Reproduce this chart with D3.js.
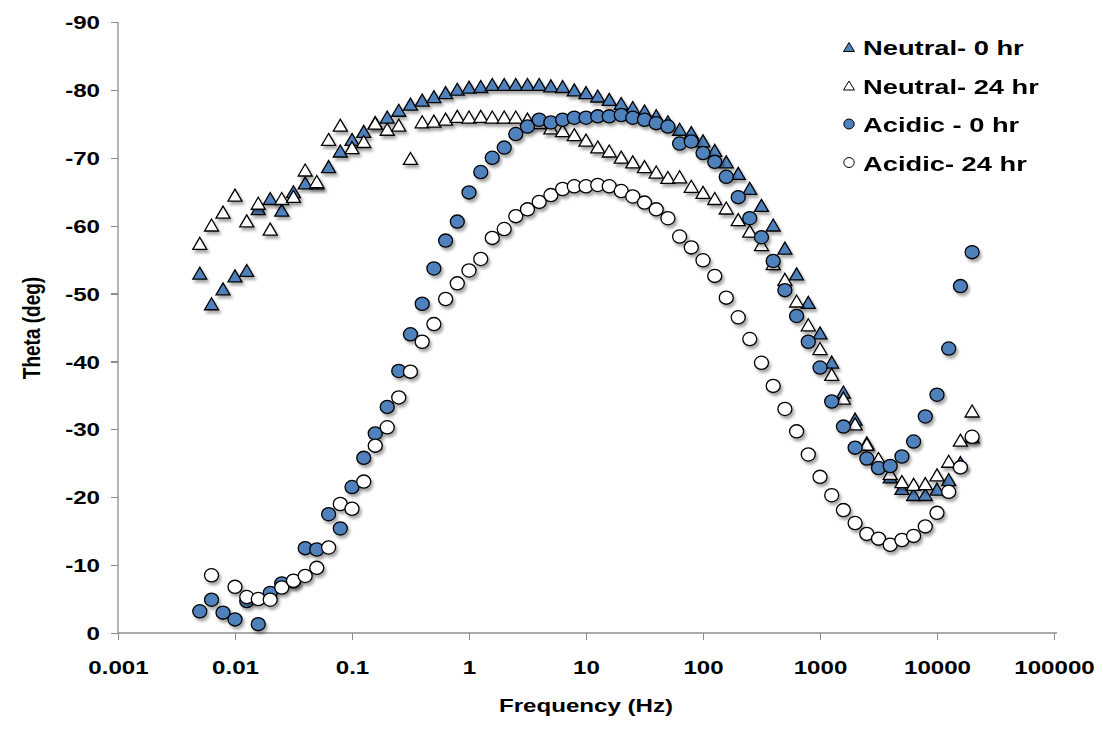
<!DOCTYPE html>
<html>
<head>
<meta charset="utf-8">
<title>Theta vs Frequency</title>
<style>
  body { margin: 0; background: #fff; }
  text { font-family: "Liberation Sans", Arial, sans-serif; font-weight: bold; fill: #000; }
  .axis path, .axis line { stroke: #8c8c8c; stroke-width: 1.3px; shape-rendering: crispEdges; }
</style>
<script src="https://d3js.org/d3.v7.min.js"></script>
</head>
<body>
<script>
// frequencies (Hz), 10 points per decade
var freqs = [0.005, 0.0063, 0.0079, 0.01, 0.0126, 0.0158, 0.02, 0.0251, 0.0316, 0.0398,
  0.05, 0.0631, 0.0794, 0.1, 0.126, 0.158, 0.2, 0.251, 0.316, 0.398,
  0.501, 0.631, 0.794, 1.0, 1.26, 1.58, 2.0, 2.51, 3.16, 3.98,
  5.01, 6.31, 7.94, 10, 12.6, 15.8, 20, 25.1, 31.6, 39.8,
  50.1, 63.1, 79.4, 100, 126, 158, 200, 251, 316, 398,
  501, 631, 794, 1000, 1259, 1585, 1995, 2512, 3162, 3981,
  5012, 6310, 7943, 10000, 12589, 15849, 19953];

var neutral0 = [-53.0, -48.5, -50.7, -52.6, -53.4, -62.5, -64.0, -62.3, -65.0, -66.3,
  -66.3, -68.7, -71.0, -72.7, -73.9, -75.2, -76.0, -77.0, -77.9, -78.5,
  -79.0, -79.6, -80.1, -80.4, -80.5, -80.8, -80.8, -80.8, -80.8, -80.8,
  -80.6, -80.5, -80.0, -79.6, -79.1, -78.6, -78.0, -77.4, -76.9, -76.2,
  -75.3, -74.2, -73.7, -72.5, -71.1, -69.4, -67.7, -65.5, -63.0, -60.1,
  -56.7, -52.9, -48.7, -44.2, -39.9, -35.5, -31.5, -28.0, -25.6, -23.0,
  -21.3, -20.4, -20.4, -21.2, -22.6, -25.1, -28.9];

var neutral24 = [-57.4, -60.1, -62.0, -64.5, -60.7, -63.3, -59.5, -64.0, -64.3, -68.2,
  -66.5, -72.7, -74.8, -71.5, -72.4, -75.1, -74.2, -74.8, -69.9, -75.3,
  -75.4, -75.7, -76.1, -76.0, -76.1, -76.0, -76.0, -76.0, -75.7, -75.2,
  -74.4, -74.0, -73.4, -72.6, -71.6, -71.0, -70.1, -69.4, -68.7, -67.9,
  -67.1, -67.2, -65.8, -64.9, -64.0, -62.6, -60.9, -59.2, -57.2, -54.4,
  -52.1, -48.9, -45.4, -41.9, -38.1, -34.6, -30.8, -27.8, -25.7, -23.5,
  -22.3, -21.9, -22.0, -23.3, -25.3, -28.4, -32.7];

var acidic0 = [-3.2, -4.9, -3.0, -2.0, -4.7, -1.3, -5.9, -7.3, -7.6, -12.5,
  -12.3, -17.5, -15.4, -21.5, -25.8, -29.4, -33.3, -38.6, -44.0, -48.5,
  -53.7, -57.8, -60.6, -64.9, -67.9, -70.0, -71.5, -73.5, -74.6, -75.6,
  -75.2, -75.6, -75.9, -75.9, -76.1, -76.1, -76.3, -75.9, -75.6, -75.1,
  -74.6, -72.1, -72.4, -70.7, -69.4, -67.2, -64.2, -61.1, -58.3, -54.8,
  -50.5, -46.7, -42.9, -39.1, -34.1, -30.4, -27.3, -25.7, -24.3, -24.6,
  -26.0, -28.2, -31.9, -35.1, -41.9, -51.1, -56.1];

var acidic24 = [null, -8.5, null, -6.8, -5.3, -5.0, -4.9, -6.7, -7.7, -8.4,
  -9.6, -12.6, -19.0, -18.3, -22.3, -27.6, -30.3, -34.7, -38.5, -42.9,
  -45.5, -49.2, -51.5, -53.4, -55.1, -58.2, -59.5, -61.4, -62.4, -63.5,
  -64.5, -65.4, -65.8, -65.8, -66.0, -65.8, -65.1, -64.3, -63.4, -62.4,
  -61.1, -58.4, -56.8, -54.9, -52.6, -49.4, -46.5, -43.3, -39.8, -36.4,
  -33.0, -29.7, -26.3, -23.0, -20.3, -18.1, -16.2, -14.6, -13.9, -13.0,
  -13.7, -14.3, -15.7, -17.7, -20.8, -24.4, -28.9];

var seriesNames = ["Neutral- 0 hr", "Neutral- 24 hr", "Acidic - 0 hr", "Acidic- 24 hr"];
var xTicks = [0.001, 0.01, 0.1, 1, 10, 100, 1000, 10000, 100000];
var xTickLabels = ["0.001", "0.01", "0.1", "1", "10", "100", "1000", "10000", "100000"];
var yTicks = [0, -10, -20, -30, -40, -50, -60, -70, -80, -90];

var series = [
  { name: seriesNames[0], values: neutral0, shape: "triangle", fill: "#4f81bd" },
  { name: seriesNames[1], values: neutral24, shape: "triangle", fill: "#ffffff" },
  { name: seriesNames[2], values: acidic0, shape: "circle", fill: "#4f81bd" },
  { name: seriesNames[3], values: acidic24, shape: "circle", fill: "#ffffff" }
];

var W = 1103, H = 738;
var sx = 1.27; // the picture is stretched sideways, so text is too

var svg = d3.select("body").append("svg")
  .attr("width", W)
  .attr("height", H);

var filter = svg.append("defs").append("filter")
  .attr("id", "shadow")
  .attr("x", "-20%").attr("y", "-20%")
  .attr("width", "140%").attr("height", "140%");
filter.append("feDropShadow")
  .attr("dx", 2).attr("dy", 3)
  .attr("stdDeviation", 1.6)
  .attr("flood-color", "#000")
  .attr("flood-opacity", 0.35);

var x = d3.scaleLog().domain([0.001, 100000]).range([118, 1054]);
var y = d3.scaleLinear().domain([0, -90]).range([633, 22]);

// axes
var xAxis = svg.append("g")
  .attr("class", "x axis")
  .attr("transform", "translate(0,633)")
  .call(d3.axisBottom(x).tickValues(xTicks)
    .tickFormat(function(d, i) { return xTickLabels[i]; })
    .tickSize(7).tickSizeOuter(0));
xAxis.selectAll("text")
  .attr("y", 0).attr("dy", 0)
  .attr("transform", "translate(0,41) scale(" + sx + ",1)")
  .style("font-size", "19px");

var yAxis = svg.append("g")
  .attr("class", "y axis")
  .attr("transform", "translate(118,0)")
  .call(d3.axisLeft(y).tickValues(yTicks)
    .tickFormat(function(d) { return String(d); })  // plain hyphen, as in the original
    .tickSize(7).tickSizeOuter(0));
yAxis.selectAll("text")
  .attr("x", 0).attr("dy", "0.35em")
  .attr("transform", "translate(-18,0) scale(" + sx + ",1)")
  .style("font-size", "19px");
svg.selectAll(".axis .domain").attr("d", null);
// axis lines
svg.append("line")
  .attr("x1", x(0.001)).attr("x2", x(100000) + 3)
  .attr("y1", y(0)).attr("y2", y(0))
  .style("stroke", "#8c8c8c").style("stroke-width", 1.3);
svg.append("line")
  .attr("x1", x(0.001)).attr("x2", x(0.001))
  .attr("y1", y(0)).attr("y2", y(-90))
  .style("stroke", "#8c8c8c").style("stroke-width", 1.3);

// axis titles
svg.append("text")
  .attr("text-anchor", "middle")
  .attr("transform", "translate(586,712) scale(" + sx + ",1)")
  .style("font-size", "19px")
  .text("Frequency (Hz)");
svg.append("text")
  .attr("text-anchor", "middle")
  .attr("transform", "translate(40,328) scale(" + sx + ",1) rotate(-90)")
  .style("font-size", "19px")
  .text("Theta (deg)");

function trianglePath(w, h) {
  return "M0," + (-h / 2) + "L" + (w / 2) + "," + (h / 2) + "L" + (-w / 2) + "," + (h / 2) + "Z";
}

// markers
series.forEach(function(s) {
  var pts = freqs.map(function(f, i) { return { f: f, v: s.values[i] }; })
    .filter(function(d) { return d.v !== null; });
  var g = svg.append("g").attr("filter", "url(#shadow)");
  if (s.shape === "triangle") {
    g.selectAll("path").data(pts).enter().append("path")
      .attr("d", trianglePath(14, 12))
      .attr("transform", function(d) { return "translate(" + x(d.f) + "," + y(d.v) + ")"; })
      .style("fill", s.fill).style("stroke", "#000").style("stroke-width", 1.3);
  } else {
    g.selectAll("ellipse").data(pts).enter().append("ellipse")
      .attr("cx", function(d) { return x(d.f); })
      .attr("cy", function(d) { return y(d.v); })
      .attr("rx", 7).attr("ry", 6.6)
      .style("fill", s.fill).style("stroke", "#000").style("stroke-width", 1.3);
  }
});

// legend
var legend = svg.append("g").attr("transform", "translate(849,47)");
series.forEach(function(s, i) {
  var row = legend.append("g").attr("transform", "translate(0," + (i * 38.5) + ")");
  if (s.shape === "triangle") {
    row.append("path").attr("d", trianglePath(11, 9))
      .style("fill", s.fill).style("stroke", "#000").style("stroke-width", 1);
  } else {
    row.append("ellipse").attr("rx", 5.2).attr("ry", 5)
      .style("fill", s.fill).style("stroke", "#000").style("stroke-width", 1);
  }
  row.append("text")
    .attr("transform", "translate(14,8) scale(1.3,1)")
    .style("font-size", "21px")
    .text(s.name);
});
</script>
</body>
</html>
